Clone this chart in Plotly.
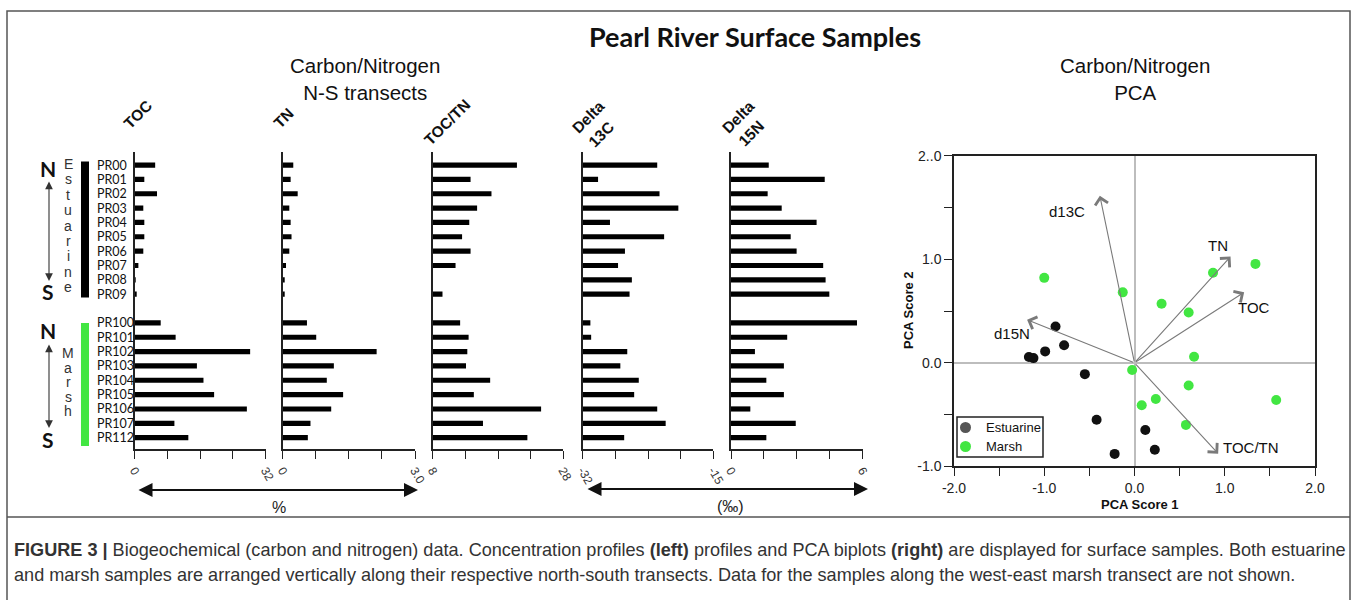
import plotly.graph_objects as go

# ---------------- data ----------------
est_samples = ["PR00", "PR01", "PR02", "PR03", "PR04", "PR05", "PR06", "PR07", "PR08", "PR09"]
marsh_samples = ["PR100", "PR101", "PR102", "PR103", "PR104", "PR105", "PR106", "PR107", "PR112"]
rows = list(range(10)) + list(range(11, 20))
samples = est_samples + marsh_samples

toc = [5.0, 2.35, 5.45, 2.1, 2.35, 2.35, 2.1, 0.9, 0.05, 0.3,
       6.35, 10.0, 28.2, 15.2, 16.8, 19.4, 27.4, 9.7, 13.1]
tn = [0.24, 0.18, 0.34, 0.15, 0.18, 0.20, 0.15, 0.075, 0.045, 0.045,
      0.55, 0.76, 2.13, 1.16, 1.0, 1.37, 1.10, 0.63, 0.57]
toc_tn = [20.9, 13.8, 17.0, 14.8, 13.6, 12.5, 13.8, 11.5, None, 9.5,
          12.2, 13.5, 13.3, 13.1, 16.8, 14.3, 24.6, 15.7, 22.5]
d13c = [-22.3, -30.0, -22.0, -19.55, -28.45, -21.4, -26.5, -27.4, -25.6, -25.9,
        -31.0, -30.9, -26.2, -27.1, -24.7, -25.3, -22.3, -21.2, -26.6]
d15n = [1.72, 4.27, 1.67, 2.31, 3.9, 2.72, 2.99, 4.2, 4.31, 4.48,
        5.74, 2.56, 1.09, 2.41, 1.61, 2.41, 0.88, 2.95, 1.61]

toc_ticks = [0, 8, 16, 24, 32]
toc_ticklabels = ["0", "", "", "", "32"]
tn_ticks = [0, 0.75, 1.5, 2.25, 3.0]
tn_ticklabels = ["0", "", "", "", "3.0"]
toctn_ticks = [8, 13, 18, 23, 28]
toctn_ticklabels = ["8", "", "", "", "28"]
d13c_ticks = [-32, -27.75, -23.5, -19.25, -15]
d13c_ticklabels = ["-32", "", "", "", "-15"]
d15n_ticks = [0, 1.5, 3, 4.5, 6]
d15n_ticklabels = ["0", "", "", "", "6"]

est_pc1 = [-0.875, -0.78, -0.99, -1.17, -1.12, -0.55, -0.42, 0.12, -0.22, 0.225]
est_pc2 = [0.35, 0.17, 0.11, 0.055, 0.045, -0.11, -0.55, -0.65, -0.88, -0.84]
marsh_pc1 = [-1.0, -0.13, 0.30, 0.60, 0.87, 1.34, 0.66, -0.026, 0.60, 0.236, 0.08, 0.57, 1.57]
marsh_pc2 = [0.82, 0.68, 0.57, 0.486, 0.87, 0.955, 0.058, -0.07, -0.22, -0.35, -0.41, -0.60, -0.36]

load_names = ["d13C", "TN", "TOC", "d15N", "TOC/TN"]
load_x = [-0.384, 1.064, 1.215, -1.19, 0.927]
load_y = [1.613, 1.026, 0.68, 0.415, -0.878]
load_lab_x = [-0.753, 0.927, 1.322, -1.356, 1.296]
load_lab_y = [1.46, 1.134, 0.537, 0.28, -0.817]

pca_xticks = [-2.0, -1.5, -1.0, -0.5, 0.0, 0.5, 1.0, 1.5, 2.0]
pca_xticklabels = ["-2.0", "", "-1.0", "", "0.0", "", "1.0", "", "2.0"]
pca_yticks = [-1.0, -0.5, 0.0, 0.5, 1.0, 1.5, 2.0]
pca_yticklabels = ["-1.0", "", "0.0", "", "1.0", "", "2..0"]

legend_names = ["Estuarine", "Marsh"]

# ---------------- helpers ----------------
W, H = 1357, 600
def px(x):
    return x / W
def py(y):
    return 1 - y / H

ARIAL = "Liberation Sans, Arial, sans-serif"
CALIBRI = "Lato, Open Sans, sans-serif"
GREEN = "#42e642"
AXC = "#222222"

fig = go.Figure()
layout = {}

panels = [
    (toc, (134.7, 265.7), [0, 32], toc_ticks, toc_ticklabels),
    (tn, (282.7, 415.0), [0, 3.0], tn_ticks, tn_ticklabels),
    (toc_tn, (432.7, 563.3), [8, 28], toctn_ticks, toctn_ticklabels),
    (d13c, (582.7, 713.3), [-32, -15], d13c_ticks, d13c_ticklabels),
    (d15n, (731.0, 862.7), [0, 6], d15n_ticks, d15n_ticklabels),
]

row_top, row_bot = -0.909, 19.79
for i, (vals, dom, rng, tv, tt) in enumerate(panels, start=1):
    sfx = "" if i == 1 else str(i)
    base = rng[0]
    lengths = [None if v is None else v - base for v in vals]
    fig.add_trace(go.Bar(
        orientation="h", y=rows, x=lengths, base=base, width=0.36,
        marker=dict(color="black", line=dict(width=0)),
        xaxis="x" + sfx, yaxis="y" + sfx, showlegend=False, hoverinfo="skip"))
    layout["xaxis" + sfx] = dict(
        domain=[px(dom[0]), px(dom[1])], range=rng, anchor="y" + sfx, automargin=False,
        showline=True, linecolor=AXC, linewidth=1.5, ticks="outside", ticklen=8,
        tickwidth=1.3, tickcolor=AXC, tickmode="array", tickvals=tv, ticktext=tt,
        tickangle=60, tickfont=dict(family=ARIAL, size=12, color="#333"),
        showgrid=False, zeroline=False, fixedrange=True)
    layout["yaxis" + sfx] = dict(
        domain=[py(449), py(152)], range=[row_bot, row_top], anchor="x" + sfx,
        automargin=False,
        showline=True, linecolor=AXC, linewidth=1.5, showticklabels=False,
        ticks="", showgrid=False, zeroline=False, fixedrange=True)

# ---------------- PCA ----------------
fig.add_trace(go.Scatter(x=est_pc1, y=est_pc2, mode="markers", name=legend_names[0],
                         marker=dict(color="#111111", size=10),
                         xaxis="x6", yaxis="y6", showlegend=False, hoverinfo="skip"))
fig.add_trace(go.Scatter(x=marsh_pc1, y=marsh_pc2, mode="markers", name=legend_names[1],
                         marker=dict(color=GREEN, size=10),
                         xaxis="x6", yaxis="y6", showlegend=False, hoverinfo="skip"))

layout["xaxis6"] = dict(
    domain=[px(954), px(1315)], range=[-2, 2], anchor="y6", automargin=False,
    showline=True, mirror=True, linecolor=AXC, linewidth=1.5,
    ticks="outside", ticklen=8, tickwidth=1.3, tickcolor=AXC,
    tickmode="array", tickvals=pca_xticks, ticktext=pca_xticklabels,
    tickfont=dict(family=ARIAL, size=14, color="#222"),
    showgrid=False, zeroline=True, zerolinecolor="#bdbdbd", zerolinewidth=1.5,
    fixedrange=True)
layout["yaxis6"] = dict(
    domain=[py(466.3), py(155.7)], range=[-1, 2], anchor="x6", automargin=False,
    showline=True, mirror=True, linecolor=AXC, linewidth=1.5,
    ticks="outside", ticklen=8, tickwidth=1.3, tickcolor=AXC,
    tickmode="array", tickvals=pca_yticks, ticktext=pca_yticklabels,
    tickfont=dict(family=ARIAL, size=14, color="#222"),
    showgrid=False, zeroline=True, zerolinecolor="#bdbdbd", zerolinewidth=1.5,
    fixedrange=True)

ann = []
for name, lx, ly, tx, ty in zip(load_names, load_x, load_y, load_lab_x, load_lab_y):
    ann.append(dict(x=lx, y=ly, ax=0, ay=0, xref="x6", yref="y6", axref="x6", ayref="y6",
                    text="", showarrow=True, arrowhead=4, arrowsize=2.3, arrowwidth=1.1,
                    arrowcolor="#7a7a7a"))
    ann.append(dict(x=tx, y=ty, xref="x6", yref="y6", text=name, showarrow=False,
                    font=dict(family=ARIAL, size=15, color="#111")))

ann.append(dict(x=px(1140), y=py(504), xref="paper", yref="paper", text="<b>PCA Score 1</b>",
                showarrow=False, font=dict(family=ARIAL, size=13, color="#111")))
ann.append(dict(x=px(908), y=py(310), xref="paper", yref="paper", text="<b>PCA Score 2</b>",
                textangle=-90, showarrow=False, font=dict(family=ARIAL, size=13, color="#111")))

# manual legend box (PCA)
shapes = []
shapes.append(dict(type="rect", xref="paper", yref="paper", x0=px(957), x1=px(1043),
                   y0=py(457), y1=py(417), fillcolor="white", line=dict(color="#222", width=1.5)))
for (lname, lcol, ly) in zip(legend_names, ["#555555", GREEN], [427.5, 446.5]):
    shapes.append(dict(type="circle", xref="paper", yref="paper", x0=px(960), x1=px(971),
                       y0=py(ly + 5.5), y1=py(ly - 5.5), fillcolor=lcol, line=dict(width=0)))
    ann.append(dict(x=px(984), y=py(ly), xref="paper", yref="paper", text=lname,
                    xanchor="left", showarrow=False,
                    font=dict(family=ARIAL, size=13, color="#111")))

# ---------------- titles ----------------
ann.append(dict(x=px(755), y=py(37), xref="paper", yref="paper",
                text="<b>Pearl River Surface Samples</b>", showarrow=False,
                font=dict(family=CALIBRI, size=27, color="#111")))
for txt, cx in [("Carbon/Nitrogen<br>N-S transects", 365), ("Carbon/Nitrogen<br>PCA", 1135)]:
    ann.append(dict(x=px(cx), y=py(79), xref="paper", yref="paper", text=txt,
                    showarrow=False, font=dict(family=ARIAL, size=20.5, color="#111")))

for txt, cx, cy in [("TOC", 138, 115), ("TN", 283, 118), ("TOC/TN", 447, 123),
                    ("Delta", 587.5, 117), ("13C", 601, 134.5),
                    ("Delta", 737.5, 117), ("15N", 751, 133.5)]:
    ann.append(dict(x=px(cx), y=py(cy), xref="paper", yref="paper", text="<b>%s</b>" % txt,
                    textangle=-45, showarrow=False,
                    font=dict(family=ARIAL, size=15.5, color="#111")))

# sample labels
for s, r in zip(samples, rows):
    ann.append(dict(x=px(95), y=r, xref="paper", yref="y", text=s, xanchor="left",
                    showarrow=False, font=dict(family=CALIBRI, size=12.5, color="#111")))

# vertical group words
for k, ch in enumerate("Estuarine"):
    ann.append(dict(x=px(68), y=py(164 + k * 15.4), xref="paper", yref="paper", text=ch,
                    showarrow=False, font=dict(family=ARIAL, size=14, color="#333")))
for k, ch in enumerate("Marsh"):
    ann.append(dict(x=px(68), y=py(353 + k * 14.6), xref="paper", yref="paper", text=ch,
                    showarrow=False, font=dict(family=ARIAL, size=14, color="#333")))

# N / S letters
for txt, cy in [("N", 168), ("S", 291), ("N", 330), ("S", 440)]:
    ann.append(dict(x=px(48), y=py(cy), xref="paper", yref="paper", text="<b>%s</b>" % txt,
                    showarrow=False, font=dict(family=CALIBRI, size=21, color="#111")))

# N-S double arrows
for y0, y1 in [(180, 281), (343, 428)]:
    ann.append(dict(x=px(49), y=py(y1), xref="paper", yref="paper", ax=0, ay=-(y1 - y0),
                    text="", showarrow=True, arrowhead=2, startarrowhead=2,
                    arrowside="end+start", arrowsize=1.4, startarrowsize=1.4,
                    arrowwidth=1.1, arrowcolor="#333"))

# bottom unit arrows
for x0, x1, y, lab, lx in [(137, 418, 490, "%", 279), (586, 868, 489, "(‰)", 730)]:
    ann.append(dict(x=px(x1), y=py(y), xref="paper", yref="paper", ax=-(x1 - x0), ay=0,
                    text="", showarrow=True, arrowhead=2, startarrowhead=2,
                    arrowside="end+start", arrowsize=1.4, startarrowsize=1.4,
                    arrowwidth=2, arrowcolor="#111"))
    ann.append(dict(x=px(lx), y=py(y + 17), xref="paper", yref="paper", text=lab,
                    showarrow=False, font=dict(family=ARIAL, size=16, color="#222")))

# caption
cap1 = ("<b>FIGURE 3</b> <b>|</b> Biogeochemical (carbon and nitrogen) data. Concentration profiles "
        "<b>(left)</b> profiles and PCA biplots <b>(right)</b> are displayed for surface samples. "
        "Both estuarine")
cap2 = ("and marsh samples are arranged vertically along their respective north-south transects. "
        "Data for the samples along the west-east marsh transect are not shown.")
for txt, cy in [(cap1, 550), (cap2, 575)]:
    ann.append(dict(x=px(12), y=py(cy), xref="paper", yref="paper", text=txt, xanchor="left",
                    showarrow=False, font=dict(family=ARIAL, size=18.1, color="#333")))

for a in ann:
    a.setdefault("xanchor", "center")
    a.setdefault("yanchor", "middle")

shapes += [
    dict(type="rect", xref="paper", yref="paper", x0=px(7), x1=px(1350), y0=py(640), y1=py(11),
         line=dict(color="#555", width=1.5)),
    dict(type="line", xref="paper", yref="paper", x0=px(7), x1=px(1350), y0=py(517), y1=py(517),
         line=dict(color="#555", width=1.5)),
    dict(type="rect", xref="paper", yref="paper", x0=px(81), x1=px(89), y0=py(297.5), y1=py(161.5),
         fillcolor="black", line=dict(width=0)),
    dict(type="rect", xref="paper", yref="paper", x0=px(81), x1=px(89), y0=py(446), y1=py(323),
         fillcolor=GREEN, line=dict(width=0)),
]

fig.update_layout(
    width=W, height=H, margin=dict(l=0, r=0, t=0, b=0, pad=0), autosize=False,
    paper_bgcolor="white", plot_bgcolor="rgba(0,0,0,0)",
    showlegend=False,
    annotations=ann, shapes=shapes, barmode="overlay",
    **layout)

fig.write_html(
    "out.html",
    post_script="document.body.style.margin='0';document.body.style.padding='0';"
                "document.body.style.overflow='hidden';")
